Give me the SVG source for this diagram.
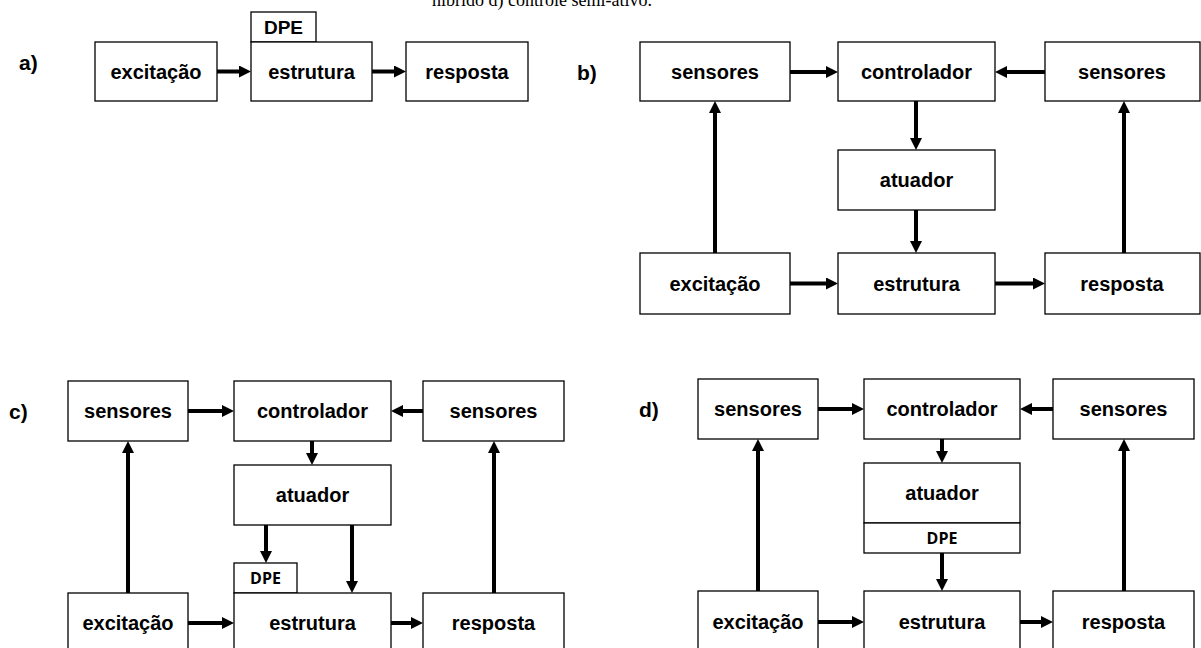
<svg xmlns="http://www.w3.org/2000/svg" width="1201" height="648" viewBox="0 0 1201 648">
  <style>
    .box { fill: #fff; stroke: #000; stroke-width: 1.3; }
    .lbl { font-family: "Liberation Sans", Arial, sans-serif; font-weight: bold; font-size: 20px; text-anchor: middle; dominant-baseline: central; fill: #000; }
    .dpe-a { font-family: "Liberation Sans", Arial, sans-serif; font-weight: bold; font-size: 19px; text-anchor: middle; dominant-baseline: central; fill: #000; }
    .dpe { font-family: "Open Sans", "Liberation Sans", sans-serif; font-weight: bold; font-size: 16px; text-anchor: middle; dominant-baseline: central; fill: #000; }
    .tag { font-family: "Liberation Sans", Arial, sans-serif; font-weight: bold; font-size: 21px; fill: #000; }
    .cap { font-family: "Liberation Serif", "Times New Roman", serif; font-size: 18px; fill: #000; }
    .wire { stroke: #000; stroke-width: 4; fill: none; marker-end: url(#head); }
  </style>
  <defs>
    <marker id="head" markerUnits="userSpaceOnUse" markerWidth="12" markerHeight="12" refX="2" refY="6" orient="auto">
      <path d="M0,0 L12,6 L0,12 z" fill="#000"/>
    </marker>
  </defs>

  <rect width="1201" height="648" fill="#fff"/>

  <!-- caption line, partly above the page edge -->
  <text class="cap" x="432" y="6">híbrido d) controle semi-ativo.</text>

  <!-- panel labels -->
  <text class="tag" x="19" y="70">a)</text>
  <text class="tag" x="577" y="80">b)</text>
  <text class="tag" x="9" y="419">c)</text>
  <text class="tag" x="639" y="417">d)</text>

  <!-- ===== panel a ===== -->
  <g id="a-excitacao"><rect class="box" x="95" y="42" width="122" height="59"/><text class="lbl" x="156" y="71.5">excitação</text></g>
  <g id="a-dpe"><rect class="box" x="251" y="12" width="65" height="30"/><text class="dpe-a" x="283.5" y="27">DPE</text></g>
  <g id="a-estrutura"><rect class="box" x="251" y="42" width="121" height="59"/><text class="lbl" x="311.5" y="71.5">estrutura</text></g>
  <g id="a-resposta"><rect class="box" x="406" y="42" width="122" height="59"/><text class="lbl" x="467" y="71.5">resposta</text></g>

  <!-- ===== panel b ===== -->
  <g id="b-sensores-l"><rect class="box" x="640" y="42" width="150" height="59"/><text class="lbl" x="715" y="72">sensores</text></g>
  <g id="b-controlador"><rect class="box" x="838" y="42" width="157" height="59"/><text class="lbl" x="916.5" y="72">controlador</text></g>
  <g id="b-sensores-r"><rect class="box" x="1045" y="42" width="155" height="59"/><text class="lbl" x="1122" y="72">sensores</text></g>
  <g id="b-atuador"><rect class="box" x="838" y="150" width="157" height="60"/><text class="lbl" x="916.5" y="180">atuador</text></g>
  <g id="b-excitacao"><rect class="box" x="640" y="253" width="150" height="61"/><text class="lbl" x="715" y="284">excitação</text></g>
  <g id="b-estrutura"><rect class="box" x="838" y="253" width="157" height="61"/><text class="lbl" x="916.5" y="284">estrutura</text></g>
  <g id="b-resposta"><rect class="box" x="1045" y="253" width="155" height="61"/><text class="lbl" x="1122" y="284">resposta</text></g>

  <!-- ===== panel c ===== -->
  <g id="c-sensores-l"><rect class="box" x="68" y="381" width="120" height="60"/><text class="lbl" x="128" y="411">sensores</text></g>
  <g id="c-controlador"><rect class="box" x="234" y="381" width="157" height="60"/><text class="lbl" x="312.5" y="411">controlador</text></g>
  <g id="c-sensores-r"><rect class="box" x="423" y="381" width="141" height="60"/><text class="lbl" x="493.5" y="411">sensores</text></g>
  <g id="c-atuador"><rect class="box" x="234" y="465" width="157" height="60"/><text class="lbl" x="312.5" y="495">atuador</text></g>
  <g id="c-dpe"><rect class="box" x="234" y="563" width="63" height="30"/><text class="dpe" x="265.5" y="578">DPE</text></g>
  <g id="c-excitacao"><rect class="box" x="68" y="593" width="120" height="60"/><text class="lbl" x="128" y="623">excitação</text></g>
  <g id="c-estrutura"><rect class="box" x="234" y="593" width="157" height="60"/><text class="lbl" x="312.5" y="623">estrutura</text></g>
  <g id="c-resposta"><rect class="box" x="423" y="593" width="141" height="60"/><text class="lbl" x="493.5" y="623">resposta</text></g>

  <!-- ===== panel d ===== -->
  <g id="d-sensores-l"><rect class="box" x="698" y="379" width="120" height="60"/><text class="lbl" x="758" y="409">sensores</text></g>
  <g id="d-controlador"><rect class="box" x="864" y="379" width="156" height="60"/><text class="lbl" x="942" y="409">controlador</text></g>
  <g id="d-sensores-r"><rect class="box" x="1053" y="379" width="141" height="60"/><text class="lbl" x="1123.5" y="409">sensores</text></g>
  <g id="d-atuador"><rect class="box" x="864" y="463" width="156" height="60"/><text class="lbl" x="942" y="493">atuador</text></g>
  <g id="d-dpe"><rect class="box" x="864" y="523" width="156" height="30"/><text class="dpe" x="942" y="538">DPE</text></g>
  <g id="d-excitacao"><rect class="box" x="698" y="591" width="120" height="60"/><text class="lbl" x="758" y="622">excitação</text></g>
  <g id="d-estrutura"><rect class="box" x="864" y="591" width="156" height="60"/><text class="lbl" x="942" y="622">estrutura</text></g>
  <g id="d-resposta"><rect class="box" x="1053" y="591" width="141" height="60"/><text class="lbl" x="1123.5" y="622">resposta</text></g>

  <!-- connectors -->
  <g id="connectors">
    <!-- a -->
    <line class="wire" x1="217" y1="71.5" x2="241" y2="71.5"/>
    <line class="wire" x1="372" y1="71.5" x2="396" y2="71.5"/>
    <!-- b -->
    <line class="wire" x1="790" y1="72" x2="828" y2="72"/>
    <line class="wire" x1="1045" y1="72" x2="1005" y2="72"/>
    <line class="wire" x1="916" y1="101" x2="916" y2="140"/>
    <line class="wire" x1="916" y1="210" x2="916" y2="243"/>
    <line class="wire" x1="790" y1="283.5" x2="828" y2="283.5"/>
    <line class="wire" x1="995" y1="283.5" x2="1035" y2="283.5"/>
    <line class="wire" x1="715" y1="253" x2="715" y2="111"/>
    <line class="wire" x1="1124" y1="253" x2="1124" y2="111"/>
    <!-- c -->
    <line class="wire" x1="188" y1="411" x2="224" y2="411"/>
    <line class="wire" x1="423" y1="411" x2="401" y2="411"/>
    <line class="wire" x1="312" y1="441" x2="312" y2="455"/>
    <line class="wire" x1="266" y1="525" x2="266" y2="553"/>
    <line class="wire" x1="352" y1="525" x2="352" y2="583"/>
    <line class="wire" x1="188" y1="623" x2="224" y2="623"/>
    <line class="wire" x1="391" y1="623" x2="413" y2="623"/>
    <line class="wire" x1="128" y1="593" x2="128" y2="451"/>
    <line class="wire" x1="494" y1="593" x2="494" y2="451"/>
    <!-- d -->
    <line class="wire" x1="818" y1="409" x2="854" y2="409"/>
    <line class="wire" x1="1053" y1="409" x2="1030" y2="409"/>
    <line class="wire" x1="942" y1="439" x2="942" y2="453"/>
    <line class="wire" x1="942" y1="553" x2="942" y2="581"/>
    <line class="wire" x1="818" y1="622" x2="854" y2="622"/>
    <line class="wire" x1="1020" y1="622" x2="1043" y2="622"/>
    <line class="wire" x1="758" y1="591" x2="758" y2="449"/>
    <line class="wire" x1="1124" y1="591" x2="1124" y2="449"/>
  </g>
</svg>
